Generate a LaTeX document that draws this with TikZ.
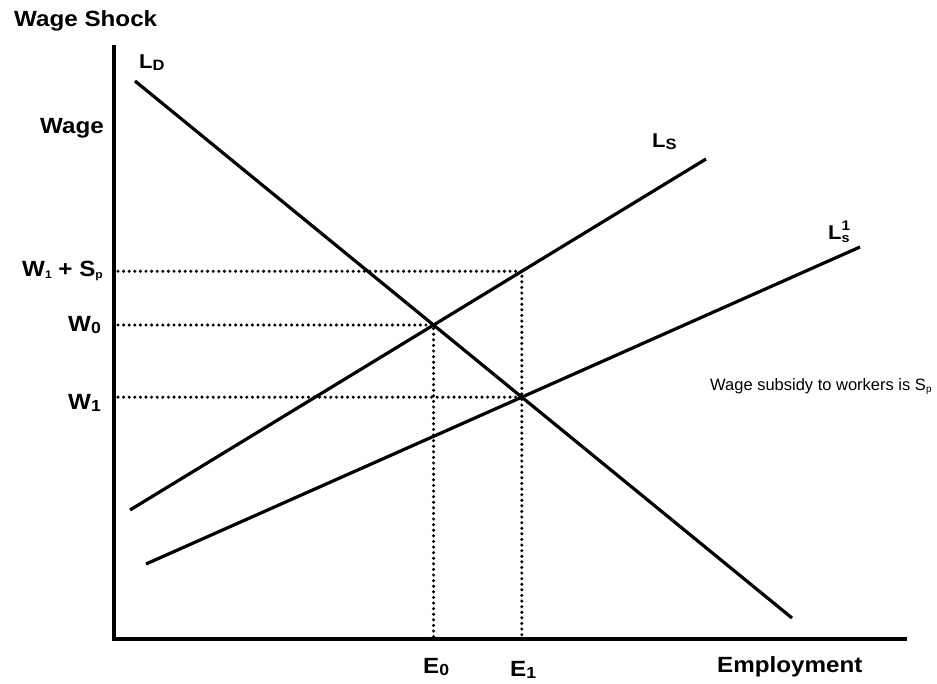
\documentclass[tikz,border=0pt]{standalone}
\usepackage{fontspec}
\setmainfont[FakeStretch=1.1]{Liberation Sans}
\newfontfamily\plainfont{Liberation Sans}
\newcommand\lowsub[2][12]{\raisebox{-2.5pt}{\fontsize{#1}{#1}\selectfont #2}}
\begin{document}
\begin{tikzpicture}[x=1pt,y=-1pt,
  curve/.style={line width=3.2pt},
  axisline/.style={line width=3.4pt},
  guide/.style={line width=3.4pt, line cap=round, dash pattern=on 0pt off 5.6pt},
  lab/.style={font=\fontsize{22}{22}\selectfont\bfseries, inner sep=0pt, anchor=base west},
  llab/.style={font=\fontsize{20}{20}\selectfont\bfseries, inner sep=0pt, anchor=base west},
  note/.style={font=\plainfont\fontsize{16.5}{16.5}\selectfont, inner sep=0pt, anchor=base west},
]
\useasboundingbox (0,0) rectangle (937,683);
% axes
\coordinate (Ytop) at (114,45);
\coordinate (O) at (114,639);
\coordinate (Xend) at (907,639);
\draw[axisline] (Ytop) -- (O) -- (Xend);
% curves
\coordinate (D1) at (135,81);
\coordinate (D2) at (792,618);
\coordinate (S1) at (130,510);
\coordinate (S2) at (706,159);
\coordinate (T1) at (146,564);
\coordinate (T2) at (860,247);
\draw[curve] (D1) -- (D2);
\draw[curve] (S1) -- (S2);
\draw[curve] (T1) -- (T2);
% intersections
\coordinate (P0) at (intersection of D1--D2 and S1--S2);
\coordinate (P1) at (intersection of D1--D2 and T1--T2);
\coordinate (P1up) at ([yshift=-300pt]P1);
\coordinate (P2) at (intersection of S1--S2 and P1--P1up);
\coordinate (W0ax) at (Ytop |- P0);
\coordinate (W1ax) at (Ytop |- P1);
\coordinate (W2ax) at (Ytop |- P2);
\coordinate (E0ax) at (P0 |- O);
\coordinate (E1ax) at (P1 |- O);
\draw[guide] ([xshift=4pt]W0ax) -- (P0) -- (E0ax);
\draw[guide] ([xshift=4pt]W1ax) -- (P1);
\draw[guide] ([xshift=4pt]W2ax) -- (P2) -- (E1ax);
% labels
\node[lab] (title) at (14,26) {Wage Shock};
\node[lab] (ylab) at (40,133) {Wage};
\node[lab] (xlab) at (717,672) {Employment};
\node[llab] (LD) at (139,68) {L\lowsub[15]{D}};
\node[llab] (LS) at (652,147) {L\lowsub[15]{S}};
\node[llab] (LS1) at (828,239) {L\rlap{\raisebox{-3pt}{\fontsize{13}{13}\selectfont s}}\raisebox{9pt}{\fontsize{14}{14}\selectfont 1}};
\node[lab] (w2lab) at (22,276) {W\lowsub[11]{1} + S\lowsub[11]{p}};
\node[lab] (w0lab) at (68,331) {W\lowsub[16]{0}};
\node[lab] (w1lab) at (68,409) {W\lowsub[16]{1}};
\node[lab] (e0lab) at (423,673) {E\lowsub[16]{0}};
\node[lab] (e1lab) at (510,676) {E\lowsub[16]{1}};
\node[note] (sub) at (710,390) {Wage subsidy to workers is S\lowsub[10]{p}};
\end{tikzpicture}
\end{document}
